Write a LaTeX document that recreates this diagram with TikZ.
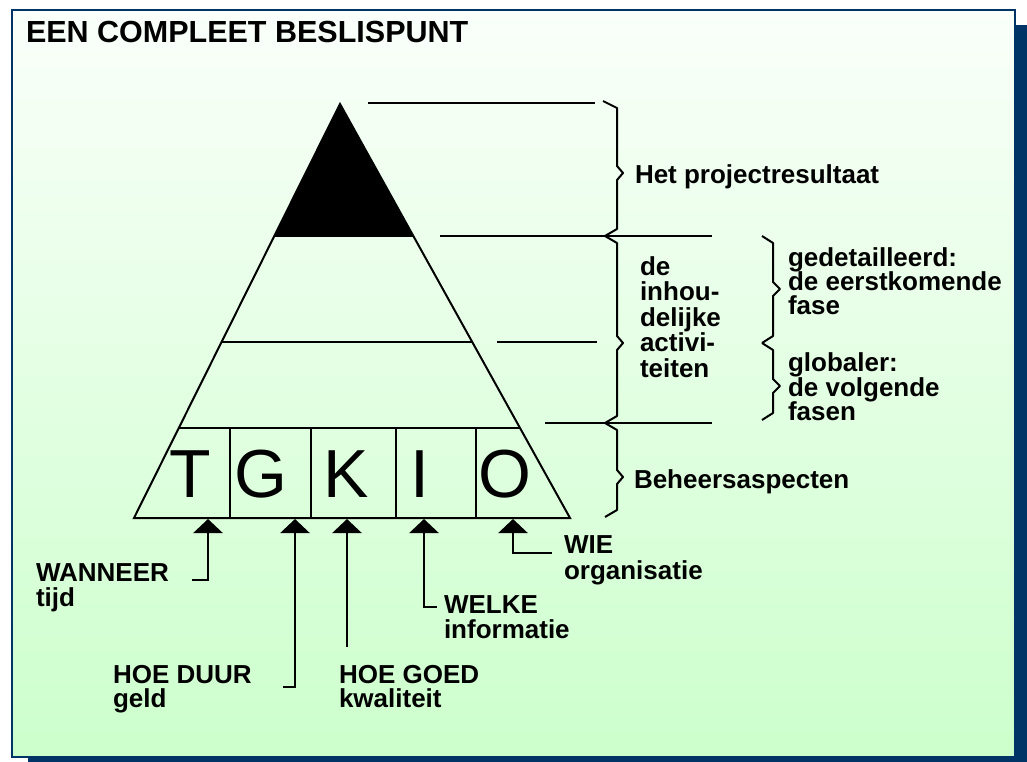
\documentclass[tikz,border=0pt]{standalone}
\usepackage{fontspec}
\setmainfont{Liberation Sans}
\usetikzlibrary{arrows.meta,calc}
\definecolor{navy}{RGB}{0,51,102}
\definecolor{paletop}{RGB}{250,255,250}
\definecolor{palebottom}{RGB}{204,255,204}

\begin{document}
\begin{tikzpicture}[x=1pt, y=-1pt, line width=2pt,
  lbl/.style={anchor=base west, inner sep=0pt, font=\fontsize{26}{26}\selectfont\bfseries},
  letter/.style={anchor=base, inner sep=0pt, font=\fontsize{68}{68}\selectfont},
  pointer/.style={line width=2.6pt, -{Triangle[width=29pt,length=14pt]}},
  bracket/.style={line width=2pt, line join=round}]
  \useasboundingbox (0,0) rectangle (1027,762);

  % Frame with shadow
  \fill[navy] (28,25) rectangle (1027,762);
  \shadedraw[top color=paletop, bottom color=palebottom, draw=navy, line width=2pt]
    (12,10) rectangle (1015,757);
  \node[lbl, font=\fontsize{30.5}{30.5}\selectfont\bfseries] (title) at (25,43) {EEN COMPLEET BESLISPUNT};

  % Pyramid
  \coordinate (apex) at (340,104);
  \coordinate (bl) at (134,518);
  \coordinate (br) at (570,518);
  \coordinate (l1) at ($(apex)!0.319!(bl)$);
  \coordinate (r1) at ($(apex)!0.319!(br)$);
  \coordinate (l2) at ($(apex)!0.575!(bl)$);
  \coordinate (r2) at ($(apex)!0.575!(br)$);
  \coordinate (l3) at ($(apex)!0.783!(bl)$);
  \coordinate (r3) at ($(apex)!0.783!(br)$);
  \fill (apex) -- (l1) -- (r1) -- cycle;
  \draw (apex) -- (bl) -- (br) -- cycle;
  \draw (l1) -- (r1);
  \draw (l2) -- (r2);
  \draw (l3) -- (r3);

  % Control aspects row
  \foreach \x in {230,311,396,476}
    \draw (\x,428) -- (\x,518);
  \foreach \c/\x in {T/190,G/261,K/346,I/420,O/505}
    \node[letter] (let\c) at (\x,497) {\c};

  % Leader lines
  \draw (368,103) -- (595,103);
  \draw (440,236) -- (712,236);
  \draw (497,342) -- (597,342);
  \draw (545,423) -- (712,423);

  % Braces
  \draw[bracket] (603,101) -- (617,108) -- (617,166) -- (623,173) -- (617,180) -- (617,229) -- (605,236);
  \draw[bracket] (605,236) -- (617,243) -- (617,336) -- (623,343) -- (617,350) -- (617,416) -- (605,423);
  \draw[bracket] (605,423) -- (617,430) -- (617,470) -- (623,477) -- (617,484) -- (617,510) -- (605,517);
  \draw[bracket] (762,236) -- (773,243) -- (773,282) -- (780,289) -- (773,296) -- (773,336) -- (762,343);
  \draw[bracket] (762,343) -- (773,350) -- (773,379) -- (780,386) -- (773,393) -- (773,413) -- (762,420);

  % Right-hand texts
  \node[lbl] (result) at (634,183) {Het projectresultaat};
  \node[lbl] (act1) at (639,275) {de};
  \node[lbl] (act2) at (639,300.5) {inhou-};
  \node[lbl] (act3) at (639,326) {delijke};
  \node[lbl] (act4) at (639,351.5) {activi-};
  \node[lbl] (act5) at (639,377) {teiten};
  \node[lbl] (det1) at (787,266) {gedetailleerd:};
  \node[lbl] (det2) at (787,290.5) {de eerstkomende};
  \node[lbl] (det3) at (787,314.5) {fase};
  \node[lbl] (glob1) at (787,371) {globaler:};
  \node[lbl] (glob2) at (787,396) {de volgende};
  \node[lbl] (glob3) at (787,420.5) {fasen};
  \node[lbl] (aspects) at (633,488) {Beheersaspecten};

  % Bottom texts
  \node[lbl] (wanneer) at (35,581) {WANNEER};
  \node[lbl] (tijd) at (35,606) {tijd};
  \node[lbl] (hoeduur) at (112,683) {HOE DUUR};
  \node[lbl] (geld) at (112,707.5) {geld};
  \node[lbl] (hoegoed) at (338,683) {HOE GOED};
  \node[lbl] (kwaliteit) at (338,707.5) {kwaliteit};
  \node[lbl] (welke) at (443,613) {WELKE};
  \node[lbl] (informatie) at (443,638) {informatie};
  \node[lbl] (wie) at (563,553) {WIE};
  \node[lbl] (organisatie) at (563,579) {organisatie};

  % Arrows to the base
  \coordinate (baseT) at (208,519);
  \coordinate (baseG) at (295,519);
  \coordinate (baseK) at (347,519);
  \coordinate (baseI) at (424,519);
  \coordinate (baseO) at (513,519);
  \coordinate (endT) at (192,580);
  \coordinate (endG) at (283,687);
  \coordinate (endK) at (347,647);
  \coordinate (endI) at (437,607);
  \coordinate (endO) at (552,553);
  \draw[pointer] (endT) -| (baseT);
  \draw[pointer] (endG) -| (baseG);
  \draw[pointer] (endK) -- (baseK);
  \draw[pointer] (endI) -| (baseI);
  \draw[pointer] (endO) -| (baseO);
\end{tikzpicture}
\end{document}
